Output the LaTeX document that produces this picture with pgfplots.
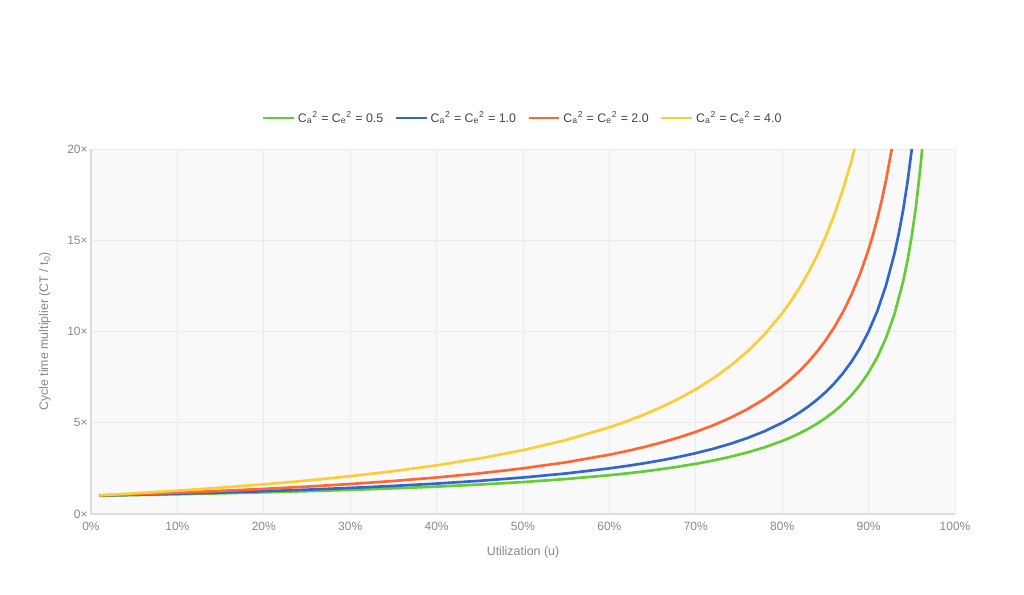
\documentclass[border=0pt]{standalone}
\usepackage{fontspec}
\setmainfont{Liberation Sans}
\usepackage{pgfplots}
\pgfplotsset{compat=1.18}
\definecolor{cgreen}{HTML}{66CC33}
\definecolor{cblue}{HTML}{3366CC}
\definecolor{corange}{HTML}{FF6633}
\definecolor{cyellow}{HTML}{FFCC33}
\definecolor{gridc}{HTML}{EBEBEB}
\definecolor{bgc}{HTML}{F9F9F9}
\definecolor{axc}{HTML}{DDDDDD}
\definecolor{txt}{HTML}{888888}
\definecolor{ltxt}{HTML}{444444}
\begin{document}
\begin{tikzpicture}
\path (-68.25pt,-60.75pt) rectangle ++(768pt,446.25pt);
\begin{axis}[
  at={(0,0)}, anchor=south west,
  scale only axis, width=648pt, height=273.75pt,
  xmin=0, xmax=1, ymin=0, ymax=20,
  axis background/.style={fill=bgc},
  axis x line*=bottom, axis y line*=left,
  axis line style={draw=axc, line width=0.8pt},
  major tick length=0pt,
  xtick={0,0.1,...,1.0},
  xticklabels={0\%,10\%,20\%,30\%,40\%,50\%,60\%,70\%,80\%,90\%,100\%},
  ytick={0,5,10,15,20},
  yticklabels={0×,5×,10×,15×,20×},
  grid=major, grid style={draw=gridc, line width=0.6pt},
  ticklabel style={font=\fontsize{9}{11}\selectfont, text=txt},
  xticklabel style={yshift=-2.5pt},
  yticklabel style={xshift=1pt},
  xlabel={Utilization (u)},
  ylabel={Cycle time multiplier (CT / t\textsubscript{0})},
  label style={font=\fontsize{9.3}{11}\selectfont, text=txt},
  xlabel style={at={(axis description cs:0.5,-0.104)}, anchor=center},
  ylabel style={at={(axis description cs:-0.0532,0.5)}, anchor=center},
  legend columns=4,
  legend style={at={(axis description cs:0.5,1)}, anchor=center, yshift=23.25pt,
    draw=none, fill=none, font=\fontsize{9.3}{11}\selectfont, text=ltxt,
    /tikz/every even column/.append style={column sep=6.5pt}},
  legend image code/.code={\draw[#1] (0pt,0pt) -- (23pt,0pt);},
  every axis plot/.append style={line width=2pt, line join=round},
  clip=true,
]
\addplot[cgreen] coordinates {
(0.01,1.008) (0.05,1.039) (0.10,1.083) (0.15,1.132) (0.20,1.188) (0.25,1.25)
(0.30,1.321) (0.35,1.404) (0.40,1.5) (0.45,1.614) (0.50,1.75) (0.55,1.917)
(0.60,2.125) (0.62,2.224) (0.64,2.333) (0.66,2.456) (0.68,2.594) (0.70,2.75)
(0.72,2.929) (0.74,3.135) (0.76,3.375) (0.78,3.659) (0.80,4.0) (0.81,4.197)
(0.82,4.417) (0.83,4.662) (0.84,4.938) (0.85,5.25) (0.86,5.607) (0.87,6.019)
(0.88,6.5) (0.89,7.068) (0.90,7.75) (0.91,8.583) (0.92,9.625) (0.93,10.964)
(0.94,12.75) (0.945,13.886) (0.95,15.25) (0.955,16.917) (0.96,19.0) (0.962,20.0)
};
\addlegendentry{C\textsubscript{a}\textsuperscript{2} = C\textsubscript{e}\textsuperscript{2} = 0.5}
\addplot[cblue] coordinates {
(0.01,1.010) (0.05,1.053) (0.10,1.111) (0.15,1.176) (0.20,1.25) (0.25,1.333)
(0.30,1.429) (0.35,1.538) (0.40,1.667) (0.45,1.818) (0.50,2.0) (0.55,2.222)
(0.60,2.5) (0.62,2.632) (0.64,2.778) (0.66,2.941) (0.68,3.125) (0.70,3.333)
(0.72,3.571) (0.74,3.846) (0.76,4.167) (0.78,4.545) (0.80,5.0) (0.81,5.263)
(0.82,5.556) (0.83,5.882) (0.84,6.25) (0.85,6.667) (0.86,7.143) (0.87,7.692)
(0.88,8.333) (0.89,9.091) (0.90,10.0) (0.91,11.111) (0.92,12.5) (0.93,14.286)
(0.935,15.385) (0.94,16.667) (0.945,18.182) (0.95,20.0)
};
\addlegendentry{C\textsubscript{a}\textsuperscript{2} = C\textsubscript{e}\textsuperscript{2} = 1.0}
\addplot[corange] coordinates {
(0.01,1.015) (0.05,1.079) (0.10,1.167) (0.15,1.265) (0.20,1.375) (0.25,1.5)
(0.30,1.643) (0.35,1.808) (0.40,2.0) (0.45,2.227) (0.50,2.5) (0.55,2.833)
(0.60,3.25) (0.62,3.447) (0.64,3.667) (0.66,3.912) (0.68,4.188) (0.70,4.5)
(0.72,4.857) (0.74,5.269) (0.76,5.75) (0.78,6.318) (0.80,7.0) (0.81,7.395)
(0.82,7.833) (0.83,8.324) (0.84,8.875) (0.85,9.5) (0.86,10.214) (0.87,11.038)
(0.88,12.0) (0.89,13.136) (0.90,14.5) (0.905,15.289) (0.91,16.167) (0.915,17.147)
(0.92,18.25) (0.9268,20.0)
};
\addlegendentry{C\textsubscript{a}\textsuperscript{2} = C\textsubscript{e}\textsuperscript{2} = 2.0}
\addplot[cyellow] coordinates {
(0.01,1.025) (0.05,1.132) (0.10,1.278) (0.15,1.441) (0.20,1.625) (0.25,1.833)
(0.30,2.071) (0.35,2.346) (0.40,2.667) (0.45,3.045) (0.50,3.5) (0.55,4.056)
(0.60,4.75) (0.62,5.079) (0.64,5.444) (0.66,5.853) (0.68,6.313) (0.70,6.833)
(0.72,7.429) (0.74,8.115) (0.76,8.917) (0.78,9.864) (0.80,11.0) (0.81,11.658)
(0.82,12.389) (0.83,13.206) (0.84,14.125) (0.85,15.167) (0.86,16.357) (0.87,17.731)
(0.88,19.333) (0.8837,20.0)
};
\addlegendentry{C\textsubscript{a}\textsuperscript{2} = C\textsubscript{e}\textsuperscript{2} = 4.0}
\end{axis}
\end{tikzpicture}
\end{document}
